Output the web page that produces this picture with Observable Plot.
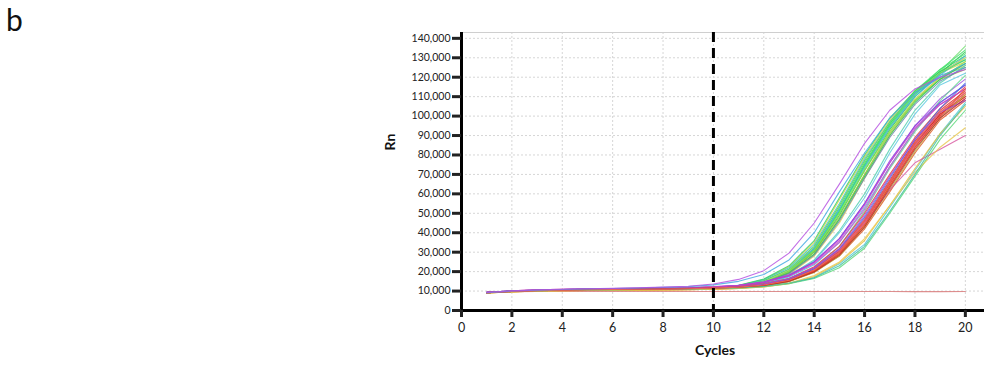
<!DOCTYPE html>
<html>
<head>
<meta charset="utf-8">
<script src="https://cdn.jsdelivr.net/npm/d3@7"></script>
<script src="https://cdn.jsdelivr.net/npm/@observablehq/plot@0.6"></script>
<style>
  html, body { margin: 0; padding: 0; background: #fff; }
  #wrap { position: relative; width: 984px; height: 367px; font-family: Lato, "Open Sans", sans-serif; }
  #panel { position: absolute; left: 6px; top: 4px; font-size: 30px; line-height: 30px; color: #111; }
  #chart svg { display: block; }
  #chart svg text { font-family: Lato, "Open Sans", sans-serif; }
</style>
</head>
<body>
<div id="wrap">
  <div id="chart"></div>
  <div id="panel">b</div>
</div>
<script>
// ---- data (Rn values in thousands) ----
const cycles = [1,2,3,4,5,6,7,8,9,10,11,12,13,14,15,16,17,18,19,20];
const xTicks = [0,2,4,6,8,10,12,14,16,18,20];
const yTicks = [0,10000,20000,30000,40000,50000,60000,70000,80000,90000,100000,110000,120000,130000,140000];
const thresholdCycle = [10];

const seriesNames = [
  "NTC",
  "E1","E2","E3","E4","E5","E6","E7","E8","E9","E10",
  "E11","E12","E13","E14","E15","E16","E17","E18","E19","E20",
  "M1","M2","M3","M4",
  "L1","L2","L3","L4","L5","L6","L7","L8","L9","L10","L11",
  "L12","L13","L14","L15","L16","L17","L18","L19","L20","L21","L22",
  "C","P"
];
const seriesColors = [
  "#d87878",
  "#2fd65a","#d9cf3a","#6fe06f","#3cc0d0","#22c84e","#b8d848","#3ad0a0","#48e070","#e0d050","#30d060",
  "#48b0e8","#a0c040","#3ee068","#88e050","#e8d860","#28c858","#50d0b0","#5ac8e0","#40d878","#6888a8",
  "#a050e0","#40c0e8","#60d890","#d050c8",
  "#e02828","#d83030","#e86a30","#c82848","#8a3ce0","#e06098","#e83838","#e05020","#4868e0","#48c8d8","#e8c040",
  "#58d878","#d02020","#c840c8","#b8b040","#d858a0","#e8c850","#40c0a0","#e84828","#9848d8","#b82828","#f07060",
  "#40a8e0","#b44ee0"
];
const rnThousands = [
  [9.3,9.7,9.8,9.8,9.8,9.8,9.8,9.8,9.8,9.8,9.8,9.8,9.8,9.8,9.8,9.8,9.8,9.7,9.7,9.8],
  [9.2,9.9,10.3,10.5,10.7,10.8,10.9,11.0,11.2,11.6,12.6,15.2,21.0,32,53,76,96,112,123,131],
  [9.1,9.8,10.2,10.4,10.6,10.7,10.8,10.9,11.1,11.5,12.8,15.8,22.5,35,57,79,98,113,122,128],
  [9.2,9.9,10.3,10.5,10.7,10.8,10.9,11.0,11.1,11.4,12.3,14.6,20.0,30.5,50,73,94,111,123,136],
  [9.3,10.0,10.4,10.6,10.8,10.9,11.0,11.1,11.3,11.7,12.9,15.9,22.0,34,55,78,97,112,121,125],
  [9.2,9.8,10.2,10.4,10.6,10.7,10.8,10.9,11.0,11.3,12.2,14.4,19.6,30,49,72,93,110,122,133],
  [9.1,9.8,10.2,10.4,10.5,10.6,10.7,10.8,10.9,11.2,12.1,14.2,19.2,29,47,70,92,109,120,127],
  [9.2,9.9,10.3,10.5,10.7,10.8,10.9,11.0,11.2,11.5,12.5,15.0,20.6,31.5,52,75,95,111,122,130],
  [9.2,9.9,10.3,10.5,10.6,10.7,10.8,10.9,11.1,11.4,12.4,14.8,20.3,31,51,74,95,112,124,134],
  [9.0,9.7,10.1,10.3,10.4,10.5,10.6,10.7,10.8,11.0,11.8,13.8,18.5,28,45,68,90,108,120,126],
  [9.3,10.0,10.4,10.6,10.8,10.9,11.0,11.1,11.3,11.8,13.0,16.2,23.0,36,58,80,99,113,123,129],
  [9.2,9.9,10.3,10.5,10.7,10.8,10.9,11.0,11.2,11.6,12.6,15.1,20.8,32,52,74,94,110,121,131],
  [9.1,9.8,10.2,10.4,10.6,10.7,10.8,10.9,11.0,11.3,12.2,14.5,19.8,30,48,70,91,108,119,124],
  [9.2,9.9,10.3,10.5,10.7,10.8,10.9,11.0,11.2,11.5,12.5,15.0,20.5,31,51,75,96,113,124,132],
  [9.2,9.8,10.2,10.4,10.6,10.7,10.8,10.9,11.1,11.4,12.3,14.7,20.2,31,50,72,92,108,119,128],
  [9.1,9.8,10.2,10.4,10.5,10.6,10.7,10.8,11.0,11.3,12.4,15.0,21.0,33,54,77,97,112,122,130],
  [9.2,9.9,10.3,10.5,10.7,10.8,10.9,11.0,11.1,11.4,12.2,14.3,19.3,29,47,69,90,107,119,127],
  [9.2,9.9,10.3,10.5,10.6,10.7,10.8,10.9,11.0,11.3,12.0,13.9,18.0,26,41,60,83,103,117,126],
  [9.2,9.9,10.2,10.4,10.6,10.7,10.8,10.9,11.0,11.3,12.0,13.7,17.6,25.5,40,58,81,101,116,122],
  [9.2,9.9,10.3,10.5,10.7,10.8,10.9,11.0,11.2,11.5,12.6,15.3,21.3,33,54,77,97,112,122,129],
  [9.1,9.8,10.2,10.4,10.5,10.6,10.7,10.8,11.0,11.3,12.1,14.2,19.0,28.5,46,68,89,106,118,125],
  [9.3,10.0,10.5,10.8,11.0,11.2,11.3,11.5,11.7,12.2,13.0,14.8,18.5,25,37,55,76,95,109,119],
  [9.2,9.9,10.3,10.5,10.7,10.8,10.9,11.0,11.2,11.5,12.2,13.8,17.2,23.5,35,53,74,93,107,116],
  [9.1,9.8,10.2,10.4,10.5,10.6,10.7,10.8,10.9,11.2,11.8,13.2,16.4,22,33,51,73,92,108,121],
  [9.3,10.1,10.6,10.9,11.1,11.3,11.4,11.6,11.8,12.3,13.0,14.5,17.8,24,35,52,74,93,106,114],
  [9.2,9.9,10.4,10.7,10.9,11.0,11.1,11.2,11.4,11.8,12.3,13.5,16.0,21.5,31,47,67,87,103,113],
  [9.1,9.8,10.3,10.6,10.8,10.9,11.0,11.1,11.3,11.6,12.1,13.1,15.4,20.5,29.5,45,65,85,101,111],
  [9.0,9.6,10.0,10.2,10.3,10.4,10.5,10.6,10.7,10.9,11.4,12.5,14.9,20.0,29,44,64,84,100,110],
  [9.2,9.9,10.4,10.7,10.9,11.0,11.1,11.2,11.4,11.7,12.2,13.3,15.8,21.0,30.5,46,66,86,102,112],
  [9.3,10.0,10.5,10.8,11.0,11.2,11.3,11.4,11.6,12.0,12.8,14.6,18.0,25,37,55,77,95,107,116],
  [9.3,10.1,10.6,10.9,11.1,11.3,11.4,11.5,11.7,12.0,12.5,13.6,16.2,21.8,31.5,47,66,85,100,109],
  [9.2,9.9,10.4,10.7,10.9,11.0,11.1,11.2,11.4,11.8,12.4,13.7,16.5,22.5,33,50,70,89,104,115],
  [9.1,9.8,10.2,10.5,10.7,10.8,10.9,11.0,11.1,11.4,11.9,12.9,15.1,19.8,28,42,61,81,98,108],
  [9.2,9.9,10.3,10.6,10.8,10.9,11.0,11.1,11.3,11.6,12.2,13.4,16.0,21.5,31.5,48,68,88,104,117],
  [9.1,9.8,10.2,10.4,10.6,10.7,10.8,10.9,11.0,11.3,11.7,12.5,14.1,17.0,24,34,53,72,91,107],
  [9.0,9.6,10.0,10.2,10.3,10.4,10.5,10.6,10.7,10.9,11.3,12.1,13.8,17.5,24.5,36,54,73,91,105],
  [9.1,9.8,10.2,10.4,10.6,10.7,10.8,10.9,11.0,11.3,11.6,12.3,13.8,16.5,22,32,50,69,88,103],
  [9.2,9.9,10.4,10.7,10.9,11.0,11.1,11.2,11.4,11.7,12.2,13.2,15.5,20.6,30,46,66,86,101,110],
  [9.3,10.0,10.5,10.8,11.0,11.2,11.3,11.4,11.6,12.0,12.8,14.5,17.8,24.5,36,54,76,94,106,114],
  [9.0,9.7,10.1,10.3,10.4,10.5,10.6,10.7,10.8,11.1,11.6,12.6,14.8,19.5,28,43,62,82,99,111],
  [9.2,9.9,10.4,10.7,10.9,11.0,11.1,11.2,11.4,11.7,12.3,13.6,16.4,22,31,45,62,76,83,90],
  [9.0,9.6,10.0,10.2,10.3,10.4,10.5,10.6,10.7,10.9,11.3,12.1,14.0,18.0,25,37,54,71,84,94],
  [9.1,9.8,10.2,10.4,10.6,10.7,10.8,10.9,11.0,11.3,11.6,12.4,14.0,16.8,23,33,51,70,90,106],
  [9.1,9.8,10.2,10.5,10.7,10.8,10.9,11.0,11.2,11.5,12.0,13.0,15.3,20.3,29,44,64,84,100,114],
  [9.2,9.9,10.4,10.7,10.9,11.0,11.1,11.2,11.4,11.7,12.3,13.5,16.3,22.0,32,49,69,88,102,108],
  [9.1,9.8,10.3,10.6,10.8,10.9,11.0,11.1,11.3,11.6,12.0,12.9,15.0,19.8,28.5,43,63,83,99,109],
  [9.1,9.8,10.2,10.5,10.7,10.8,10.9,11.0,11.2,11.5,12.0,13.1,15.6,20.8,30,46,66,86,102,112],
  [9.2,10.0,10.5,10.8,11.1,11.3,11.6,11.9,12.3,13.2,15.0,18.5,26,40,61,81,99,112,120,127],
  [9.3,10.1,10.6,10.9,11.2,11.4,11.7,12.0,12.5,13.6,16.0,20.5,29.5,45,65,86,103,114,120,124]
];

// ---- long table built from the arrays above ----
const rows = [];
seriesNames.forEach((name, i) => {
  cycles.forEach((c, j) => {
    rows.push({series: name, cycle: c, rn: rnThousands[i][j] * 1000, color: seriesColors[i]});
  });
});

const fmt = d3.format(",");

const chart = Plot.plot({
  width: 984,
  height: 367,
  marginLeft: 461,
  marginRight: 0,
  marginTop: 32,
  marginBottom: 57,
  style: {background: "#fff", color: "#222"},
  x: {domain: [0, 20.76]},
  y: {domain: [0, 143000]},
  color: {type: "identity"},
  marks: [
    Plot.gridY(yTicks, {stroke: "#d6d6d6", strokeOpacity: 1, strokeDasharray: "2,2"}),
    Plot.gridX(xTicks, {stroke: "#d6d6d6", strokeOpacity: 1, strokeDasharray: "2,2"}),
    Plot.ruleY([143000], {stroke: "#cfcfcf", strokeWidth: 1.2}),
    Plot.line(rows, {x: "cycle", y: "rn", z: "series", stroke: "color", strokeWidth: 1.1, strokeOpacity: 0.82}),
    Plot.ruleX(thresholdCycle, {stroke: "#000", strokeWidth: 3, strokeDasharray: "10,6"}),
    Plot.ruleX([0], {stroke: "#000", strokeWidth: 3}),
    Plot.ruleY([0], {stroke: "#000", strokeWidth: 3}),
    Plot.axisY({ticks: yTicks, tickFormat: fmt, tickSize: 9, tickPadding: 2, strokeWidth: 3, fontSize: 10.5, label: null}),
    Plot.axisX({ticks: xTicks, tickSize: 7, tickPadding: 6, strokeWidth: 3, fontSize: 12.5, label: null}),
    Plot.text(["Cycles"], {frameAnchor: "bottom", dx: -8, dy: 44, fontSize: 14, fontWeight: "bold", fill: "#111"}),
    Plot.text(["Rn"], {frameAnchor: "left", dx: -71, dy: -21, rotate: -90, fontSize: 14, fontWeight: "bold", fill: "#111"})
  ]
});
document.getElementById("chart").appendChild(chart);
</script>
</body>
</html>
